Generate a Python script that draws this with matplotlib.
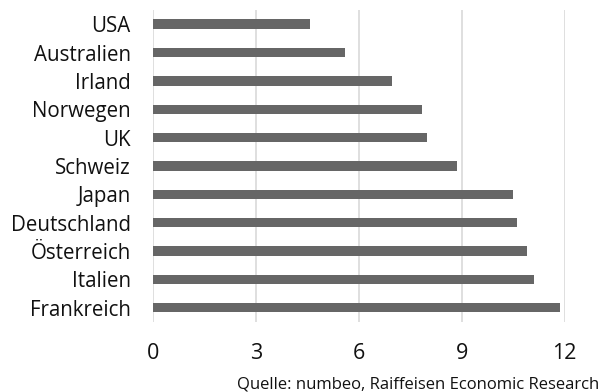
#!/usr/bin/env python3

import matplotlib
matplotlib.use('Agg')
import matplotlib.pyplot as plt

countries = ['USA', 'Australien', 'Irland', 'Norwegen', 'UK', 'Schweiz',
             'Japan', 'Deutschland', 'Österreich', 'Italien', 'Frankreich']
values = [4.59, 5.60, 6.98, 7.84, 7.99, 8.86, 10.49, 10.61, 10.89, 11.10, 11.85]
x_ticks = [0, 3, 6, 9, 12]
source = 'Quelle: numbeo, Raiffeisen Economic Research'


def main():
	plt.rcParams['font.family'] = ['Open Sans', 'DejaVu Sans']
	fig = plt.figure(figsize=(6.01, 3.92), dpi=100)
	ax = fig.add_axes([0.2546, 0.1786, 0.685, 0.7959])

	pos = list(range(len(countries)))
	ax.barh(pos, values, height=0.33, color='#666666', zorder=3)
	ax.set_ylim(len(countries) - 0.5, -0.5)
	ax.set_yticks(pos)
	ax.set_yticklabels(countries, fontsize=14.8, color='#111111')
	ax.set_xlim(0, 12)
	ax.set_xticks(x_ticks)
	ax.set_xticklabels([str(t) for t in x_ticks], fontsize=15.5, color='#111111')
	ax.tick_params(axis='y', length=0, pad=16)
	ax.tick_params(axis='x', length=0, pad=15)
	ax.grid(axis='x', color='#d9d9d9', linewidth=1.2, zorder=0)
	for s in ax.spines.values():
		s.set_visible(False)

	fig.text(0.997, 0.008, source, ha='right', va='baseline', fontsize=12, color='#111111')
	fig.savefig('out.png', dpi=100)

if __name__=="__main__":
	main()
